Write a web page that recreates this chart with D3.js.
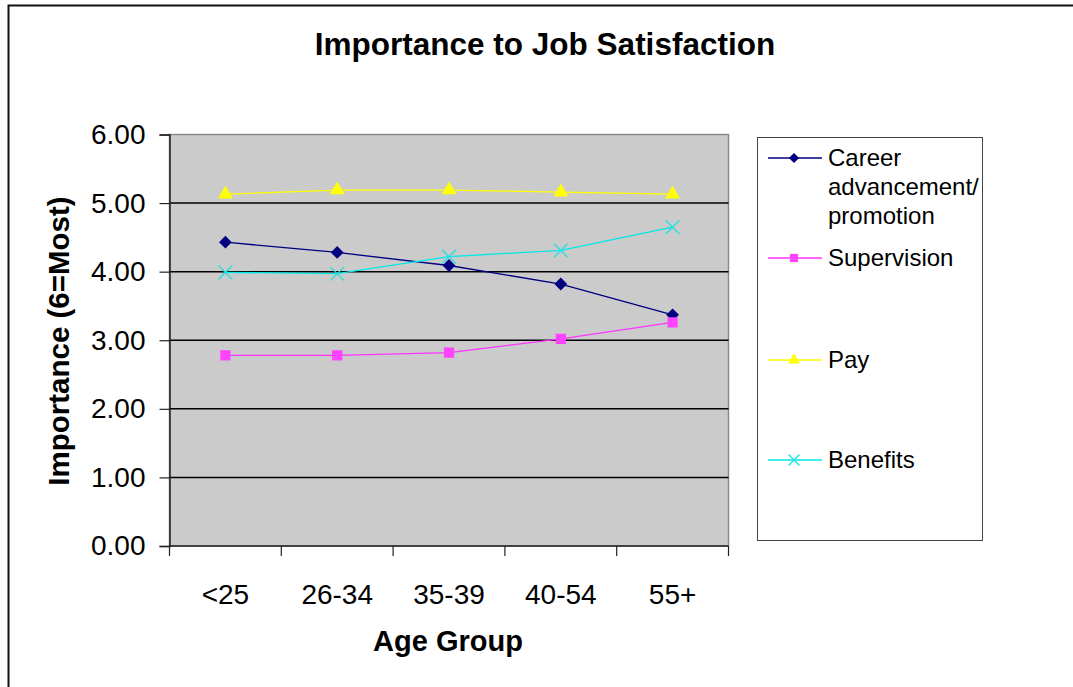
<!DOCTYPE html>
<html>
<head>
<meta charset="utf-8">
<script src="https://cdn.jsdelivr.net/npm/d3@7"></script>
<style>
  body { margin: 0; background: #fff; }
  svg { display: block; font-family: "Liberation Sans", Arial, sans-serif; }
</style>
</head>
<body>
<div id="chart"></div>
<script>
// data
const ageGroups = ["<25", "26-34", "35-39", "40-54", "55+"];
const career = [4.43, 4.28, 4.09, 3.82, 3.37];
const supervision = [2.78, 2.78, 2.82, 3.02, 3.26];
const pay = [5.13, 5.19, 5.19, 5.16, 5.13];
const benefits = [3.99, 3.97, 4.22, 4.31, 4.65];
const yTicks = [0, 1, 2, 3, 4, 5, 6];

const seriesNames = ["Career advancement/promotion", "Supervision", "Pay", "Benefits"];
const seriesValues = [career, supervision, pay, benefits];
const legendLines = [["Career", "advancement/", "promotion"], ["Supervision"], ["Pay"], ["Benefits"]];
const lineColors = ["#000080", "#ff33ff", "#ffff00", "#00e8e8"];
const markColors = ["#000080", "#ff44ff", "#ffff00", "#22e0e0"];

const W = 1073, H = 687;
const plot = {left: 169.5, top: 134.5, right: 728.5, bottom: 546};

const svg = d3.select("#chart").append("svg")
    .attr("width", W)
    .attr("height", H);

// outer chart border (only left/top visible)
svg.append("rect")
    .attr("x", 8.5).attr("y", 5.5)
    .attr("width", 1200).attr("height", 800)
    .attr("fill", "#fff")
    .attr("stroke", "#111")
    .attr("stroke-width", 2);

const x = d3.scaleBand()
    .domain(ageGroups)
    .range([plot.left, plot.right]);

const y = d3.scaleLinear()
    .domain([0, 6])
    .range([plot.bottom, plot.top]);

// plot background
svg.append("rect")
    .attr("x", plot.left).attr("y", plot.top)
    .attr("width", plot.right - plot.left)
    .attr("height", plot.bottom - plot.top)
    .attr("fill", "#cbcbcb")
    .attr("stroke", "#8a8a8a")
    .attr("stroke-width", 1.5);

// gridlines
svg.append("g")
    .selectAll("line")
    .data(yTicks.filter(d => d > 0 && d < 6))
    .enter()
    .append("line")
    .attr("x1", plot.left).attr("x2", plot.right)
    .attr("y1", d => y(d)).attr("y2", d => y(d))
    .attr("stroke", "#000")
    .attr("stroke-width", 1.5);

// y axis
const yAxis = svg.append("g")
    .attr("transform", `translate(${plot.left},0)`)
    .call(d3.axisLeft(y).tickValues(yTicks).tickFormat(d3.format(".2f")).tickSize(10).tickPadding(14));
yAxis.select(".domain").attr("stroke", "#222").attr("stroke-width", 1.5);
yAxis.selectAll(".tick line").attr("stroke", "#222").attr("stroke-width", 1.2);
yAxis.selectAll("text")
    .attr("font-size", "28px")
    .attr("fill", "#000")
    .attr("font-family", "Liberation Sans, Arial, sans-serif");

// x axis: ticks at category boundaries, labels centred
const xAxis = svg.append("g")
    .attr("transform", `translate(0,${plot.bottom})`);
xAxis.append("line")
    .attr("x1", plot.left).attr("x2", plot.right)
    .attr("stroke", "#222").attr("stroke-width", 1.5);
xAxis.selectAll(".bound")
    .data(ageGroups.map(d => x(d)).concat([x.range()[1]]))
    .enter()
    .append("line")
    .attr("class", "bound")
    .attr("x1", d => d).attr("x2", d => d)
    .attr("y1", 0).attr("y2", 10)
    .attr("stroke", "#222").attr("stroke-width", 1.2);
xAxis.selectAll(".lbl")
    .data(ageGroups)
    .enter()
    .append("text")
    .attr("class", "lbl")
    .attr("x", d => x(d) + x.bandwidth() / 2)
    .attr("y", 58)
    .attr("text-anchor", "middle")
    .attr("font-size", "28px")
    .text(d => d);

// titles
svg.append("text")
    .attr("x", 545).attr("y", 55)
    .attr("text-anchor", "middle")
    .attr("font-size", "31.5px")
    .attr("font-weight", "bold")
    .text("Importance to Job Satisfaction");

svg.append("text")
    .attr("x", 448).attr("y", 651)
    .attr("text-anchor", "middle")
    .attr("font-size", "29px")
    .attr("font-weight", "bold")
    .text("Age Group");

svg.append("text")
    .attr("transform", "translate(69,341) rotate(-90)")
    .attr("text-anchor", "middle")
    .attr("font-size", "29.5px")
    .attr("font-weight", "bold")
    .text("Importance (6=Most)");

// marker shapes
function marker(sel, i, scale) {
    const k = scale || 1;
    if (i === 0) {
        sel.append("path")
            .attr("d", d3.symbol(d3.symbolSquare, 82 * k * k)())
            .attr("transform", "rotate(45)")
            .attr("fill", markColors[i]);
    } else if (i === 1) {
        sel.append("path")
            .attr("d", d3.symbol(d3.symbolSquare, 105 * k * k)())
            .attr("fill", markColors[i]);
    } else if (i === 2) {
        sel.append("path")
            .attr("d", d3.symbol(d3.symbolTriangle, 95 * k * k)())
            .attr("fill", markColors[i]);
    } else {
        sel.append("path")
            .attr("d", d3.symbol(d3.symbolX, 125 * k * k)())
            .attr("fill", "none")
            .attr("stroke", markColors[i])
            .attr("stroke-width", 1.3);
    }
}

const line = d3.line()
    .x((d, i) => x(ageGroups[i]) + x.bandwidth() / 2)
    .y(d => y(d));

seriesValues.forEach((vals, i) => {
    const g = svg.append("g").attr("class", "series");
    g.append("path")
        .datum(vals)
        .attr("d", line)
        .attr("fill", "none")
        .attr("stroke", lineColors[i])
        .attr("stroke-width", 1.3);
    vals.forEach((v, j) => {
        const m = g.append("g")
            .attr("transform", `translate(${x(ageGroups[j]) + x.bandwidth() / 2},${y(v)})`);
        marker(m, i);
    });
});

// legend
const legend = svg.append("g");
legend.append("rect")
    .attr("x", 757.5).attr("y", 137.5)
    .attr("width", 225).attr("height", 403)
    .attr("fill", "#fff")
    .attr("stroke", "#444")
    .attr("stroke-width", 1);

const legendY = [158, 258, 360, 460];
seriesValues.forEach((vals, i) => {
    const g = legend.append("g").attr("transform", `translate(0,${legendY[i]})`);
    g.append("line")
        .attr("x1", 768).attr("x2", 822)
        .attr("stroke", lineColors[i])
        .attr("stroke-width", 1.3);
    const m = g.append("g").attr("transform", "translate(794,0)");
    marker(m, i, 0.8);
    const t = g.append("text")
        .attr("x", 828)
        .attr("y", 8)
        .attr("font-size", "24px");
    legendLines[i].forEach((s, k) => {
        t.append("tspan")
            .attr("x", 828)
            .attr("dy", k === 0 ? 0 : 29)
            .text(s);
    });
});
</script>
</body>
</html>
